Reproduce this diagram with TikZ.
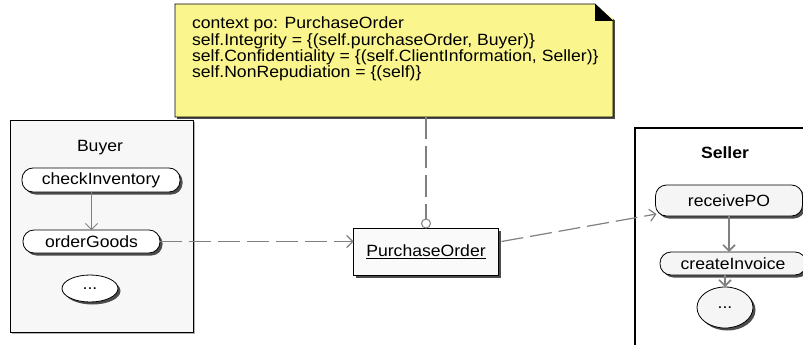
\documentclass[tikz,border=0pt]{standalone}
\usepackage{fontspec}
\setmainfont{Liberation Sans}[FakeStretch=1.08]
\usepackage{tikz}
\usetikzlibrary{arrows.meta}
\usetikzlibrary{positioning}
\usetikzlibrary{shapes.geometric}
\usetikzlibrary{shadows}
\definecolor{notefill}{RGB}{250,245,140}
\definecolor{linegray}{RGB}{128,128,128}
\newcommand{\labelfont}{\fontsize{16.3}{18}\selectfont}
\newcommand{\notetextfont}{\fontsize{16.3}{13.6}\selectfont}
\tikzset{
% open arrow tip for the flows
>={Straight Barb[length=6pt, width=12pt]},
hardshadow/.style={drop shadow={shadow xshift=2.5pt, shadow yshift=-2.5pt, fill=black!70, opacity=1}},
activity/.style={rectangle, draw=black, rounded corners=11pt, fill=white, line width=0.8pt, hardshadow},
dots/.style={ellipse, draw=black, fill=white, line width=0.8pt, hardshadow},
flow/.style={draw=linegray, line width=1.2pt},
dashflow/.style={flow, dash pattern=on 22pt off 7pt}
}

\begin{document}
\begin{tikzpicture}[x=1pt, y=-1pt, inner sep=0, outer sep=0, font=\labelfont]
  \useasboundingbox (0,0) rectangle (803,345);

  % OCL note
  \node[rectangle,
    fill = notefill,
    minimum width = 438pt,
    minimum height = 113pt,
    drop shadow={shadow xshift=2pt, shadow yshift=-2pt, fill=black!70, opacity=1}] (note) at (394,60.5) {};
  % folded corner
  \fill[white] ([xshift=-18pt]note.north east) -- ([xshift=3pt]note.north east) -- ([xshift=3pt, yshift=-17pt]note.north east) -- cycle;
  \draw[draw=black, line width=0.8pt] (note.north west) -- ([xshift=-18pt]note.north east) -- ([yshift=-17pt]note.north east) -- (note.south east) -- (note.south west) -- cycle;
  \fill[black] ([xshift=-18pt]note.north east) -- ([xshift=-18pt, yshift=-17pt]note.north east) -- ([yshift=-17pt]note.north east) -- cycle;
  \node[anchor=north west, align=left, font=\notetextfont] (notetext) at ([xshift=17pt, yshift=-13pt]note.north west)
    {context po: PurchaseOrder\\
     self.Integrity = \{(self.purchaseOrder, Buyer)\}\\
     self.Confidentiality = \{(self.ClientInformation, Seller)\}\\
     self.NonRepudiation = \{(self)\}};

  % buyer partition
  \node[rectangle, draw=black,
    line width = 0.8pt,
    minimum width = 183pt,
    minimum height = 212pt,
    fill = gray!6,
    drop shadow={shadow xshift=2pt, shadow yshift=-2pt, fill=gray!60, opacity=1}] (buyer) at (101.5,226) {};
  \node (buyertext) at (100,148) {Buyer};
  \node[activity, minimum width=158pt, minimum height=24pt] (checkInv) at (101,180) {checkInventory};
  \node[activity, minimum width=137pt, minimum height=23pt] (orderGoods) at (91.5,241.5) {orderGoods};
  \node[dots, minimum width=56pt, minimum height=27pt] (buyerdots) at (90,288.5) {...};
  \draw[flow, line width=0.8pt, ->] (checkInv.south -| orderGoods.north) -- (orderGoods.north);

  % exchanged object
  \node[rectangle, draw=black,
    line width = 0.8pt,
    minimum width = 145pt,
    minimum height = 47pt,
    fill = gray!4,
    hardshadow] (po) at (426,251.5) {\underline{PurchaseOrder}};
  \node[circle, draw=linegray, line width=1pt, fill=white, minimum size=9pt, anchor=south] (lolly) at (po.north) {};

  % seller partition, cut at the page border
  \begin{scope}
    \clip (0,0) rectangle (803,345);
    \node[rectangle, draw=black,
      line width = 1.6pt,
      anchor = north west,
      minimum width = 200pt,
      minimum height = 230pt,
      fill = white] (seller) at (635,128) {};
    \node[font=\labelfont\bfseries] (sellertext) at (725,153) {Seller};
    \node[activity, fill=gray!8, minimum width=147pt, minimum height=31pt] (receivePO) at (729,200.5) {receivePO};
    \node[activity, fill=gray!8, minimum width=146pt, minimum height=23pt] (createInv) at (733,263.5) {createInvoice};
    \node[dots, fill=gray!8, minimum width=56pt, minimum height=41pt] (sellerdots) at (725,307.5) {...};
  \end{scope}
  \draw[flow, line width=1.6pt, ->] (receivePO.south) -- (receivePO.south |- createInv.north);
  \draw[flow, line width=1.6pt, ->] (createInv.south -| sellerdots.north) -- (sellerdots.north);

  % object flows
  \draw[dashflow] (note.south -| lolly.north) -- (lolly.north);
  \draw[dashflow, ->] (orderGoods.east) -- (orderGoods.east -| po.west);
  \coordinate (poin) at ([xshift=1pt, yshift=2pt]receivePO.south west);
  \draw[dashflow, ->] ([xshift=3pt]po.east |- orderGoods.east) -- (poin);
\end{tikzpicture}
\end{document}
